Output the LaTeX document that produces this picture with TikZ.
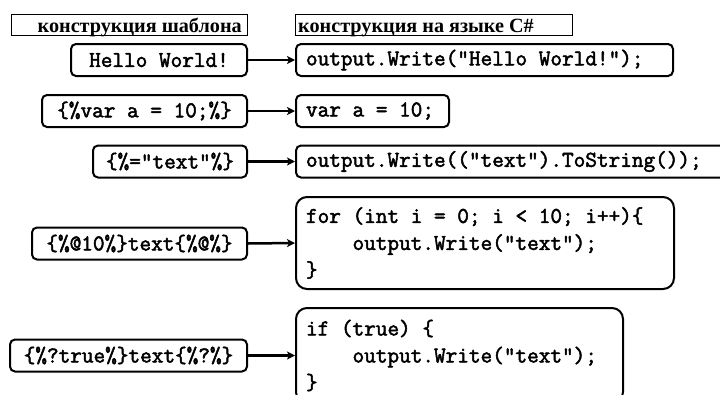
\documentclass[tikz,border=0pt]{standalone}
\usepackage{fontspec}
\setmainfont{Liberation Serif}
\newfontfamily\codefont[FakeBold=2.2]{Latin Modern Mono}
\usetikzlibrary{arrows.meta}
\newcommand{\fixsp}{\spaceskip=0pt\xspaceskip=0pt\relax}
\begin{document}
\begin{tikzpicture}[x=1pt,y=-1pt,
  hdr/.style={draw,line width=1pt,inner sep=0pt},
  hdrtext/.style={font=\bfseries\fontsize{20.2}{20}\selectfont,inner sep=0pt},
  src/.style={draw,line width=2pt,rounded corners=5pt,inner sep=0pt,minimum height=32pt,
    font=\codefont\fontsize{22.6}{27}\selectfont},
  dst/.style={draw,line width=2pt,rounded corners=5pt,inner xsep=10pt,inner ysep=0pt,minimum height=32pt,
    align=left,anchor=west,font=\codefont\fontsize{22.6}{27}\selectfont},
  big/.style={rounded corners=11pt},
  conn/.style={line width=2.5pt,-{Stealth[length=8pt,width=8pt,inset=2pt]}}]
\useasboundingbox (0,0) rectangle (720,394);
\clip (0,0) rectangle (720,394);
% headers
\node[hdr,minimum width=236pt,minimum height=21pt] (hl) at (129,24.5) {};
\node[hdr,minimum width=277pt,minimum height=21pt] (hr) at (433.5,24.5) {};
\node[hdrtext,anchor=base east] (hlt) at (242,32) {конструкция шаблона};
\node[hdrtext,anchor=base west] (hrt) at (298,32) {конструкция на языке C\#};
% row 1
\node[src,minimum width=176pt] (s1) at (159,60) {Hello World!};
\node[dst,text width=357pt] (d1) at (295,60) {\fixsp output.Write("Hello World!");};
% row 2
\node[src,minimum width=205pt] (s2) at (144.5,111) {\{\%var a = 10;\%\}};
\node[dst,text width=133pt] (d2) at (295,111) {\fixsp var a = 10;};
% row 3
\node[src,minimum width=154pt] (s3) at (170,161.5) {\{\%="text"\%\}};
\node[dst,text width=440pt] (d3) at (295,161.5) {\fixsp output.Write(("text").ToString());};
% row 4
\node[src,minimum width=215pt] (s4) at (139.5,243.5) {\{\%@10\%\}text\{\%@\%\}};
\node[dst,big,text width=358pt,minimum height=92pt] (d4) at (295,243) {\fixsp for (int i = 0; i < 10; i++)\{\\\phantom{0000}output.Write("text");\\\}};
% row 5
\node[src,minimum width=237pt] (s5) at (128.5,355.5) {\{\%?true\%\}text\{\%?\%\}};
\node[dst,big,text width=307pt,minimum height=95pt] (d5) at (295,355.5) {\fixsp if (true) \{\\\phantom{0000}output.Write("text");\\\}};
% connectors
\draw[conn] (s1.east) -- (d1.west);
\draw[conn] (s2.east) -- (d2.west);
\draw[conn] (s3.east) -- (d3.west);
\draw[conn] (s4.east) -- (d4.west);
\draw[conn] (s5.east) -- (d5.west);
\end{tikzpicture}
\end{document}
